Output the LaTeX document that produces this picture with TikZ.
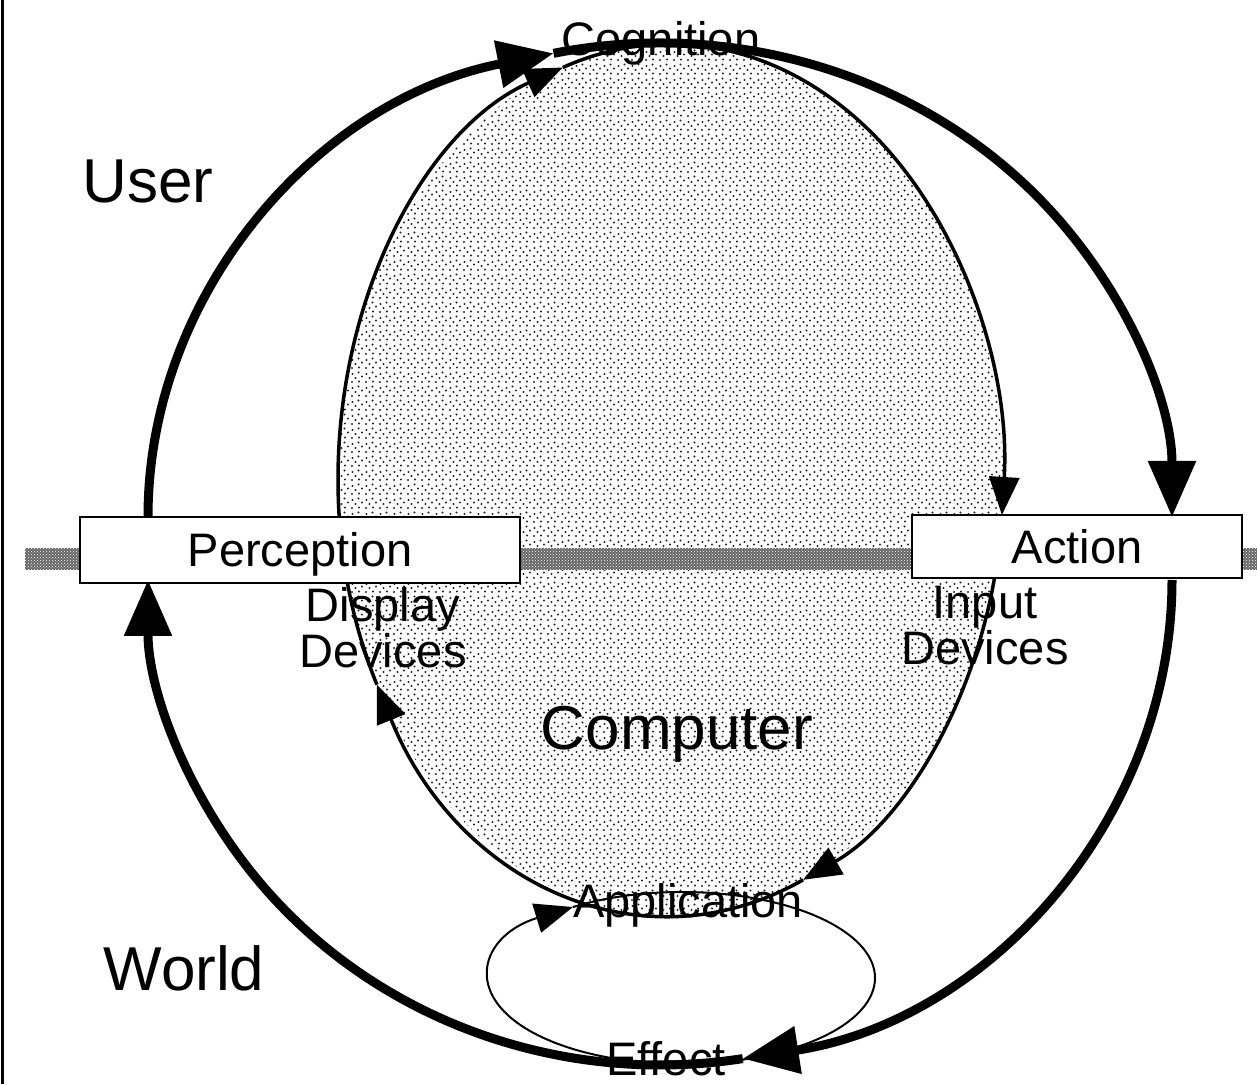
\documentclass[tikz,border=0pt]{standalone}
\usepackage{fontspec}
\setmainfont{Liberation Sans}
\usetikzlibrary{arrows.meta,patterns,calc}

% irregular stipple used for the computer region
\pgfdeclarepatternformonly{stipple}{\pgfqpoint{-2pt}{-2pt}}{\pgfqpoint{16pt}{16pt}}{\pgfqpoint{14pt}{14pt}}{%
  \pgfpathcircle{\pgfqpoint{2pt}{2pt}}{1.2pt}%
  \pgfpathcircle{\pgfqpoint{9pt}{2.5pt}}{1.2pt}%
  \pgfpathcircle{\pgfqpoint{5.5pt}{6pt}}{1.2pt}%
  \pgfpathcircle{\pgfqpoint{12pt}{7.5pt}}{1.2pt}%
  \pgfpathcircle{\pgfqpoint{2.5pt}{10pt}}{1.2pt}%
  \pgfpathcircle{\pgfqpoint{8.5pt}{11.5pt}}{1.2pt}%
  \pgfusepath{fill}}

\begin{document}
\begin{tikzpicture}[x=1pt,y=1pt,
  thickarc/.style={line width=9pt},
  thinarc/.style={line width=3.5pt},
  looparc/.style={line width=2pt},
  bigtip/.style={-{Triangle[length=56pt,width=46pt]}},
  smalltip/.style={-{Triangle[length=38pt,width=30pt]}},
  boxnode/.style={draw,line width=2pt,fill=white,inner sep=0pt,
    font=\fontsize{47}{47}\selectfont,text height=34pt,text depth=0pt},
  lbl/.style={font=\fontsize{47}{47}\selectfont,inner sep=0pt,anchor=base},
  twolbl/.style={font=\fontsize{47}{46}\selectfont,inner sep=0pt,align=center},
  biglbl/.style={font=\fontsize{62}{62}\selectfont,inner sep=0pt,anchor=base}]

\useasboundingbox (0,0) rectangle (1257,1084);

% frame line on the left edge
\draw[line width=3pt] (2.5,0) -- (2.5,1084);

% centres of the curves
\coordinate (Ot) at (660,567);   % outer loop, upper half
\coordinate (Ob) at (660,504);   % outer loop, lower half
\coordinate (In) at (670.5,604); % computer ellipse
\coordinate (Lp) at (682,106);   % application/effect loop

% computer region
\fill[pattern=stipple,pattern color=black!85] (In) ellipse [x radius=332.5,y radius=436];

% user/world boundary band
\fill[black!60] (25,514) rectangle (1257,536);
\fill[pattern=crosshatch dots,pattern color=white] (25,514) rectangle (1257,536);

% outer loop (user side, then world side)
\coordinate (oL) at ($(Ot)+(180:512 and 474)$);
\coordinate (oT) at ($(Ot)+(102:512 and 474)$);
\coordinate (oB) at ($(Ob)+(-80.7:512 and 485)$);
\coordinate (oR) at ($(Ob)+(0:512 and 485)$);
\draw[thickarc,bigtip] (oL) arc[start angle=180,end angle=102,x radius=512,y radius=474];
\draw[thickarc,bigtip] (oT) arc[start angle=102,end angle=0,x radius=512,y radius=474];
\draw[thickarc,bigtip] (oR) arc[start angle=0,end angle=-80.7,x radius=512,y radius=485];
\draw[thickarc,bigtip] (oB) arc[start angle=-80.7,end angle=-180,x radius=512,y radius=485];

% inner loop through the computer
\coordinate (iL) at ($(In)+(184.9:332.5 and 436)$);
\coordinate (iT) at ($(In)+(108.9:332.5 and 436)$);
\coordinate (iR) at ($(In)+(-13:332.5 and 436)$);
\coordinate (iB) at ($(In)+(-66.5:332.5 and 436)$);
\coordinate (iD) at ($(In)+(-152:332.5 and 436)$);
\draw[thinarc,smalltip] (iL) arc[start angle=184.9,end angle=108.9,x radius=332.5,y radius=436];
\draw[thinarc,smalltip] (iT) arc[start angle=108.9,end angle=-4.6,x radius=332.5,y radius=436];
\draw[thinarc,smalltip] (iR) arc[start angle=-13,end angle=-66.5,x radius=332.5,y radius=436];
\draw[thinarc,smalltip] (iB) arc[start angle=-66.5,end angle=-152,x radius=332.5,y radius=436];
\draw[thinarc] (iD) arc[start angle=-152,end angle=-166.3,x radius=332.5,y radius=436];

% application/effect loop
\coordinate (lA) at ($(Lp)+(124.4:193 and 86)$);
\draw[looparc,smalltip] (lA) arc[start angle=124.4,end angle=-235.6,x radius=193,y radius=86];

% boxes on the boundary
\node[boxnode,minimum width=440pt,minimum height=66pt] (perc) at (300,534) {Perception};
\node[boxnode,minimum width=330pt,minimum height=63pt] (act) at (1077,537.5) {Action};

% labels
\node[lbl] (cog) at (661,1028) {Cognition};
\node[lbl] (app) at (688,167) {Application};
\node[lbl] (eff) at (666,9) {Effect};
\node[twolbl] (disp) at (383,456) {Display\\Devices};
\node[twolbl] (inp) at (985,458.5) {Input\\Devices};
\node[biglbl] (user) at (148,881) {User};
\node[biglbl] (world) at (184,94) {World};
\node[biglbl] (comp) at (677,334) {Computer};
\end{tikzpicture}
\end{document}
